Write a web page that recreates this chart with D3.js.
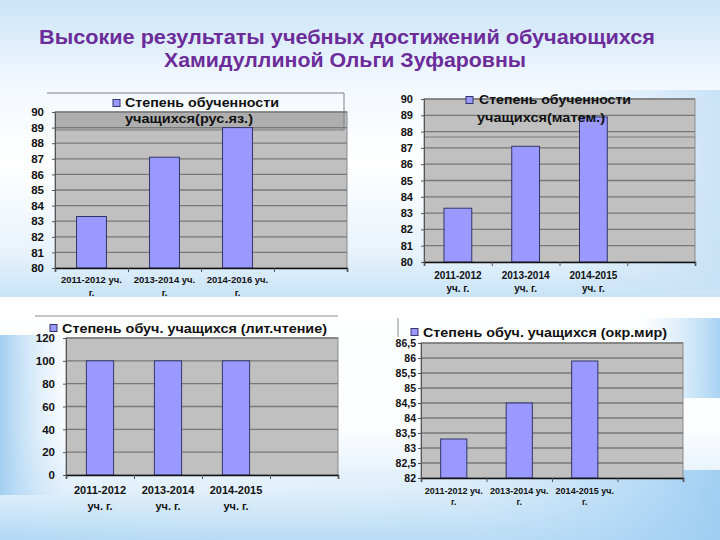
<!DOCTYPE html>
<html>
<head>
<meta charset="utf-8">
<script src="https://cdn.jsdelivr.net/npm/d3@7"></script>
<style>
  html, body { margin: 0; padding: 0; background: #ffffff; }
  svg { display: block; font-family: "Liberation Sans", Arial, sans-serif; }
</style>
</head>
<body>
<svg id="chart" width="720" height="540"></svg>
<script>
// ---------- data ----------
const titleLines = ["Высокие результаты учебных достижений обучающихся", "Хамидуллиной Ольги Зуфаровны"];
const categories = ["2011-2012 уч. г.", "2013-2014 уч. г.", "2014-2015 уч. г."];
const categoriesRus = ["2011-2012 уч. г.", "2013-2014 уч. г.", "2014-2016 уч. г."];
const rusValues = [83.3, 87.1, 89.0];
const mathValues = [83.3, 87.1, 88.9];
const litValues = [100, 100, 100];
const envValues = [83.3, 84.5, 85.9];
const rusTicks = [80, 81, 82, 83, 84, 85, 86, 87, 88, 89, 90];
const mathTicks = [80, 81, 82, 83, 84, 85, 86, 87, 88, 89, 90];
const litTicks = [0, 20, 40, 60, 80, 100, 120];
const envTicks = [82, 82.5, 83, 83.5, 84, 84.5, 85, 85.5, 86, 86.5];
const rusLegend = ["Степень обученности", "учащихся(рус.яз.)"];
const mathLegend = ["Степень обученности", "учащихся(матем.)"];
const litLegend = ["Степень обуч. учащихся (лит.чтение)"];
const envLegend = ["Степень обуч. учащихся (окр.мир)"];

const svg = d3.select("#chart");
const defs = svg.append("defs");

// ---------- background ----------
function lin(id, x1, y1, x2, y2, stops) {
  const g = defs.append("linearGradient").attr("id", id)
    .attr("x1", x1).attr("y1", y1).attr("x2", x2).attr("y2", y2);
  stops.forEach(s => g.append("stop").attr("offset", s[0]).attr("stop-color", s[1]).attr("stop-opacity", s[2] === undefined ? 1 : s[2]));
}
lin("topBg", 0, 0, 0, 1, [[0, "#cbe4f7"], [0.28, "#f2f8fe"], [0.55, "#ffffff"], [0.85, "#e8f3fc"], [1, "#c8e3f7"]]);
lin("topRight", 0, 0, 1, 0, [[0, "#cfe6f8", 0], [1, "#c6e1f6", 0.95]]);
lin("botBg", 0, 0, 0, 1, [[0, "#ffffff"], [0.55, "#fbfdff"], [0.8, "#e0effb"], [1, "#b2d8f4"]]);
lin("botRight", 0, 0, 1, 0, [[0, "#ffffff", 0], [0.6, "#cfe6f8", 0.25], [1, "#9ccdf2", 0.95]]);
lin("leftBand", 0, 0, 1, 0, [[0, "#a3cff1", 1], [1, "#cfe6f8", 0]]);
lin("rightBand", 0, 0, 1, 0, [[0, "#cfe6f8", 0], [1, "#a7d3f3", 1]]);

const bgTop = svg.append("g");
bgTop.append("rect").attr("x", 0).attr("y", 0).attr("width", 720).attr("height", 297).attr("fill", "url(#topBg)");
bgTop.append("rect").attr("x", 560).attr("y", 90).attr("width", 160).attr("height", 200).attr("fill", "url(#topRight)");

// ---------- title ----------
const title = svg.append("g").attr("fill", "#6c2c9a").attr("font-weight", "bold").attr("text-anchor", "middle");
title.append("text").attr("x", 347).attr("y", 44).attr("font-size", 21)
  .attr("textLength", 616).attr("lengthAdjust", "spacingAndGlyphs").text(titleLines[0]);
title.append("text").attr("x", 345).attr("y", 67).attr("font-size", 21)
  .attr("textLength", 362).attr("lengthAdjust", "spacingAndGlyphs").text(titleLines[1]);

// ---------- chart helper ----------
function drawChart(cfg) {
  const g = svg.append("g");
  const slots = cfg.cats.concat([""]);
  const band = d3.scaleBand().domain(slots).range([cfg.x0, cfg.x1]).padding(0);
  const idx = d3.scaleLinear().domain([0, slots.length]).range([cfg.x0, cfg.x1]);
  const y = d3.scaleLinear().domain(cfg.domain).range([cfg.y1, cfg.y0]);

  g.append("rect").attr("x", cfg.x0).attr("y", cfg.y0)
    .attr("width", cfg.x1 - cfg.x0).attr("height", cfg.y1 - cfg.y0)
    .attr("fill", "#c0c0c0").attr("stroke", "#8a8a8a").attr("stroke-width", 1);

  g.selectAll("line.grid").data(cfg.ticks.slice(1)).join("line").attr("class", "grid")
    .attr("x1", cfg.x0).attr("x2", cfg.x1)
    .attr("y1", d => y(d)).attr("y2", d => y(d))
    .attr("stroke", "#787878").attr("stroke-width", 1.3);

  if (cfg.legendBox) cfg.legendBox(g);

  const bw = band.bandwidth() * cfg.barFrac;
  g.selectAll("rect.bar").data(cfg.values).join("rect").attr("class", "bar")
    .attr("x", (d, i) => band(slots[i]) + (band.bandwidth() - bw) / 2)
    .attr("y", d => y(d)).attr("width", bw).attr("height", d => y(cfg.domain[0]) - y(d))
    .attr("fill", "#9999ff").attr("stroke", "#34346a").attr("stroke-width", 1);

  // y axis
  const ya = g.append("g").attr("transform", `translate(${cfg.x0},0)`)
    .call(d3.axisLeft(y).tickValues(cfg.ticks).tickSize(3).tickPadding(cfg.tickPad).tickFormat(cfg.fmt));
  ya.select(".domain").attr("stroke", "#555");
  ya.selectAll(".tick line").attr("stroke", "#555");
  ya.selectAll("text").attr("font-size", cfg.tickFont).attr("font-weight", "bold")
    .attr("font-family", "Liberation Sans, Arial, sans-serif").attr("fill", "#111");

  // x axis
  const xa = g.append("g").attr("transform", `translate(0,${cfg.y1})`)
    .call(d3.axisBottom(idx).tickValues(d3.range(0, slots.length + 1)).tickSize(4).tickFormat(""));
  xa.select(".domain").attr("stroke", "#111").attr("stroke-width", 1.5);
  xa.selectAll(".tick line").attr("stroke", "#555");

  // category labels
  const lab = g.append("g").attr("text-anchor", "middle").attr("font-weight", "bold")
    .attr("font-size", cfg.labFont).attr("fill", "#111");
  cfg.cats.forEach((c, i) => {
    const words = c.split(" ");
    const l1 = words.slice(0, cfg.split).join(" ");
    const l2 = words.slice(cfg.split).join(" ");
    const cx = band(c) + band.bandwidth() / 2;
    lab.append("text").attr("x", cx).attr("y", cfg.labY[0]).attr("dy", "0.35em").text(l1);
    lab.append("text").attr("x", cx).attr("y", cfg.labY[1]).attr("dy", "0.35em").text(l2);
  });

  // legend
  const lg = g.append("g").attr("font-weight", "bold").attr("font-size", cfg.legFont).attr("fill", "#111");
  lg.append("rect").attr("x", cfg.leg.mx).attr("y", cfg.leg.my - 3.5).attr("width", 7).attr("height", 7)
    .attr("fill", "#9999ff").attr("stroke", "#34346a").attr("stroke-width", 1);
  cfg.legend.forEach((t, i) => {
    lg.append("text").attr("x", cfg.leg.tx[i]).attr("y", cfg.leg.ty[i]).attr("dy", "0.35em")
      .attr("textLength", cfg.leg.tl ? cfg.leg.tl[i] : null)
      .attr("lengthAdjust", "spacingAndGlyphs").text(t);
  });
  return g;
}

const fmtInt = d3.format("d");
const fmtComma = d => String(d).replace(".", ",");

// Chart 1: русский язык
drawChart({
  cats: categoriesRus, values: rusValues, ticks: rusTicks, domain: [80, 90], fmt: fmtInt,
  x0: 55, x1: 347, y0: 112, y1: 268, barFrac: 0.41, tickFont: 11.5, tickPad: 8,
  labFont: 9.5, labY: [280, 293], split: 2, legFont: 12.5, legend: rusLegend,
  leg: { mx: 113, my: 103, tx: [125, 125], ty: [103, 119], tl: [154, 128] },
  legendBox: g => {
    g.append("rect").attr("x", 55).attr("y", 112).attr("width", 290).attr("height", 18)
      .attr("fill", "#808080").attr("fill-opacity", 0.28);
    g.append("path").attr("d", "M47,93H344V130H55")
      .attr("fill", "none").attr("stroke", "#808080").attr("stroke-width", 1);
  }
});

// Chart 2: математика
drawChart({
  cats: categories, values: mathValues, ticks: mathTicks, domain: [80, 90], fmt: fmtInt,
  x0: 424, x1: 695, y0: 99, y1: 262, barFrac: 0.41, tickFont: 11, tickPad: 8,
  labFont: 10, labY: [275, 288], split: 1, legFont: 12.5, legend: mathLegend,
  leg: { mx: 466, my: 100, tx: [479, 477], ty: [100, 118], tl: [152, 128] },
  legendBox: g => {
    g.append("line").attr("x1", 424).attr("x2", 695).attr("y1", 137).attr("y2", 137)
      .attr("stroke", "#7a7a7a").attr("stroke-width", 1.2);
  }
});

// bottom background (covers clipped labels of the top charts)
const bgBot = svg.append("g");
bgBot.append("rect").attr("x", 0).attr("y", 297).attr("width", 720).attr("height", 243).attr("fill", "url(#botBg)");
bgBot.append("rect").attr("x", 0).attr("y", 470).attr("width", 720).attr("height", 70).attr("fill", "url(#botRight)");
bgBot.append("rect").attr("x", 0).attr("y", 335).attr("width", 70).attr("height", 160).attr("fill", "url(#leftBand)");
bgBot.append("rect").attr("x", 640).attr("y", 318).attr("width", 80).attr("height", 80).attr("fill", "url(#rightBand)");

// Chart 3: литературное чтение
drawChart({
  cats: categories, values: litValues, ticks: litTicks, domain: [0, 120], fmt: fmtInt,
  x0: 66, x1: 338, y0: 338, y1: 475, barFrac: 0.4, tickFont: 11.5, tickPad: 8,
  labFont: 11, labY: [490, 506], split: 1, legFont: 13, legend: litLegend,
  leg: { mx: 50, my: 328, tx: [62], ty: [328], tl: [265] },
  legendBox: g => {
    g.append("line").attr("x1", 35).attr("x2", 338).attr("y1", 316).attr("y2", 316)
      .attr("stroke", "#8a8a8a").attr("stroke-width", 1);
  }
});

// Chart 4: окружающий мир
drawChart({
  cats: categories, values: envValues, ticks: envTicks, domain: [82, 86.5], fmt: fmtComma,
  x0: 421, x1: 683, y0: 343, y1: 478, barFrac: 0.4, tickFont: 10.5, tickPad: 2,
  labFont: 9, labY: [491, 502], split: 2, legFont: 13, legend: envLegend,
  leg: { mx: 411, my: 332, tx: [423], ty: [332], tl: [244] },
  legendBox: g => {
    g.append("line").attr("x1", 398).attr("x2", 398).attr("y1", 318).attr("y2", 337)
      .attr("stroke", "#8a8a8a").attr("stroke-width", 1);
  }
});
</script>
</body>
</html>
